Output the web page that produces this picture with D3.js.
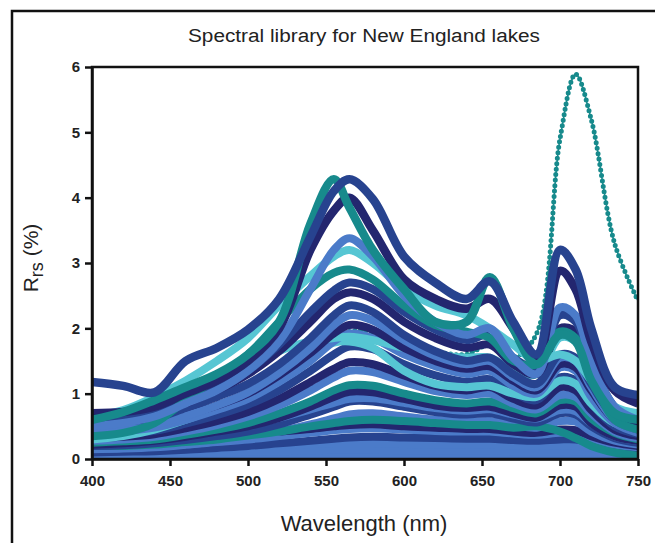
<!DOCTYPE html>
<html>
<head>
<meta charset="utf-8">
<script src="https://cdn.jsdelivr.net/npm/d3@7"></script>
<style>
  body { margin: 0; background: #fff; }
  svg { display: block; }
  text { font-family: "Liberation Sans", Arial, sans-serif; fill: #222; }
</style>
</head>
<body>
<div id="chart"></div>
<script>
var wavelength = [400,420,440,460,480,500,520,540,555,565,580,600,620,640,655,670,685,700,710,720,735,750];

// Rrs (%) per lake
var lakeA = [1.18,1.12,1.02,1.5,1.7,1.98,2.45,3.4,4.1,4.28,3.98,3.1,2.7,2.45,2.72,2.1,1.6,3.2,2.9,2.0,1.1,0.98];
var lakeB = [0.7,0.72,0.8,1.0,1.2,1.5,2.0,3.2,3.8,4.0,3.5,2.75,2.45,2.3,2.45,2.0,1.5,2.88,2.6,1.8,1.05,0.85];
var lakeT1 = [0.6,0.72,0.9,1.1,1.3,1.6,2.1,3.6,4.28,3.85,3.2,2.6,2.1,2.1,2.78,2.0,1.45,1.9,1.8,1.2,0.7,0.6];
var lakeC = [0.5,0.55,0.65,0.85,1.05,1.35,1.8,2.6,3.2,3.38,3.1,2.5,2.1,1.9,2.0,1.55,1.3,2.32,2.2,1.5,0.8,0.6];
var lakeD = [0.65,0.75,0.95,1.2,1.5,1.85,2.35,2.8,3.1,3.2,3.0,2.6,2.35,2.2,2.0,1.75,1.5,1.6,1.5,1.2,0.8,0.7];
var lakeF = [0.35,0.4,0.55,0.9,1.25,1.6,2.1,2.6,2.85,2.9,2.75,2.35,2.05,1.95,1.85,1.5,1.45,1.95,1.85,1.3,0.6,0.45];
var lakeJ = [0.62,0.64,0.7,0.88,1.08,1.35,1.75,2.25,2.58,2.7,2.6,2.25,1.98,1.82,1.9,1.55,1.4,2.2,2.1,1.5,0.8,0.6];
var lakeG = [0.6,0.62,0.68,0.85,1.05,1.3,1.65,2.1,2.45,2.55,2.45,2.1,1.85,1.7,1.75,1.45,1.3,2.0,1.95,1.4,0.75,0.55];
var lakeH = [0.55,0.58,0.62,0.78,0.95,1.15,1.45,1.85,2.2,2.35,2.25,1.9,1.65,1.5,1.55,1.3,1.15,1.6,1.55,1.15,0.65,0.5];
var lakeI = [0.45,0.48,0.53,0.66,0.82,1.02,1.32,1.7,2.05,2.2,2.12,1.82,1.58,1.45,1.5,1.25,1.1,1.55,1.5,1.1,0.6,0.45];
var lakeK = [0.5,0.52,0.56,0.68,0.82,1.0,1.28,1.62,1.92,2.05,1.98,1.7,1.5,1.38,1.42,1.2,1.05,1.45,1.4,1.05,0.6,0.45];
var lakeL = [0.4,0.43,0.48,0.6,0.75,0.92,1.18,1.5,1.8,1.92,1.85,1.6,1.42,1.3,1.35,1.12,1.0,1.4,1.35,0.95,0.55,0.4];
var lakeE = [0.44,0.55,0.7,0.9,1.1,1.35,1.65,1.8,1.85,1.87,1.82,1.7,1.6,1.55,1.55,1.35,1.3,1.86,1.8,1.35,0.8,0.65];
var lakeO = [0.3,0.35,0.45,0.6,0.78,1.0,1.3,1.6,1.78,1.8,1.7,1.35,1.15,1.1,1.12,1.0,0.95,1.2,1.15,0.85,0.55,0.5];
var lakeN = [0.35,0.38,0.43,0.54,0.67,0.83,1.05,1.35,1.6,1.72,1.68,1.45,1.28,1.18,1.22,1.02,0.9,1.25,1.2,0.85,0.5,0.38];
var lakeP = [0.32,0.34,0.38,0.47,0.58,0.72,0.92,1.18,1.38,1.48,1.45,1.28,1.12,1.05,1.1,0.92,0.82,1.1,1.05,0.75,0.45,0.35];
var lakeQ = [0.28,0.3,0.34,0.42,0.52,0.65,0.82,1.05,1.25,1.35,1.33,1.18,1.04,0.98,1.0,0.85,0.76,0.98,0.95,0.7,0.42,0.32];
var lakeR = [0.25,0.27,0.3,0.37,0.45,0.55,0.7,0.88,1.05,1.13,1.12,1.0,0.9,0.85,0.88,0.78,0.7,0.9,0.88,0.62,0.4,0.3];
var lakeS = [0.22,0.24,0.28,0.34,0.42,0.5,0.63,0.8,0.95,1.03,1.02,0.92,0.82,0.78,0.8,0.7,0.63,0.82,0.8,0.55,0.35,0.28];
var lakeM = [0.25,0.27,0.3,0.36,0.43,0.52,0.63,0.76,0.86,0.92,0.93,0.86,0.78,0.74,0.76,0.68,0.62,0.75,0.73,0.55,0.35,0.28];
var lakeU = [0.2,0.21,0.24,0.29,0.35,0.42,0.53,0.68,0.8,0.88,0.88,0.8,0.72,0.68,0.7,0.62,0.56,0.7,0.68,0.5,0.32,0.25];
var lakeW = [0.15,0.16,0.18,0.22,0.27,0.33,0.42,0.53,0.62,0.68,0.7,0.65,0.6,0.57,0.58,0.52,0.48,0.58,0.57,0.42,0.28,0.22];
var lakeX = [0.3,0.3,0.31,0.33,0.35,0.38,0.42,0.46,0.5,0.52,0.53,0.5,0.48,0.46,0.46,0.42,0.4,0.45,0.44,0.35,0.25,0.2];
var lakeV = [0.2,0.2,0.22,0.26,0.3,0.36,0.42,0.5,0.55,0.58,0.6,0.58,0.55,0.52,0.52,0.48,0.5,0.42,0.32,0.2,0.1,0.05];
var lakeY2 = [0.16,0.17,0.19,0.22,0.26,0.3,0.35,0.4,0.44,0.46,0.47,0.45,0.43,0.42,0.42,0.39,0.37,0.4,0.39,0.32,0.22,0.18];
var lakeY = [0.1,0.11,0.12,0.14,0.17,0.2,0.24,0.28,0.31,0.33,0.34,0.33,0.32,0.31,0.31,0.29,0.28,0.3,0.3,0.25,0.18,0.15];
var lakeZ2 = [0.12,0.13,0.14,0.16,0.18,0.2,0.22,0.23,0.24,0.24,0.24,0.23,0.22,0.22,0.22,0.21,0.2,0.21,0.2,0.17,0.12,0.1];
var lakeZ = [0.06,0.07,0.08,0.09,0.1,0.11,0.12,0.13,0.14,0.14,0.14,0.13,0.13,0.13,0.13,0.12,0.12,0.12,0.12,0.1,0.08,0.07];
var lakeZ0 = [0.03,0.03,0.03,0.03,0.03,0.03,0.03,0.04,0.05,0.05,0.05,0.05,0.05,0.05,0.05,0.05,0.05,0.05,0.05,0.04,0.03,0.03];
// the bloom lake with the big 710 nm peak (drawn dotted, underneath the rest)
var lakeT2 = [0.45,0.5,0.55,0.65,0.8,1.0,1.3,1.6,1.85,1.95,1.95,1.8,1.65,1.6,1.75,1.55,1.92,4.9,5.89,5.2,3.3,2.42];

var xTicks = [400,450,500,550,600,650,700,750];
var yTicks = [0,1,2,3,4,5,6];

var navy = "#23266f", dkblue = "#27438f", blue = "#4b7bc9", cyan = "#56c6d3", teal = "#178a8c";

// drawn bottom to top
var spectra = [
  [lakeZ0, blue], [lakeZ, blue], [lakeZ2, blue], [lakeY, dkblue], [lakeY2, blue],
  [lakeX, navy], [lakeW, blue], [lakeV, teal], [lakeU, dkblue], [lakeM, blue],
  [lakeS, navy], [lakeR, teal], [lakeQ, blue], [lakeP, navy],
  [lakeN, dkblue], [lakeO, cyan], [lakeL, blue], [lakeE, cyan], [lakeK, navy],
  [lakeI, blue], [lakeH, dkblue], [lakeG, navy], [lakeJ, dkblue], [lakeF, teal],
  [lakeD, cyan], [lakeC, blue], [lakeB, navy], [lakeT1, teal], [lakeA, dkblue]
];

var svg = d3.select("#chart").append("svg")
    .attr("width", 655)
    .attr("height", 543);

// outer frame of the figure
svg.append("rect")
    .attr("x", 12).attr("y", 11)
    .attr("width", 700).attr("height", 600)
    .attr("fill", "none")
    .attr("stroke", "#111")
    .attr("stroke-width", 2.5);

var x = d3.scaleLinear().domain([400, 750]).range([92, 638]);
var y = d3.scaleLinear().domain([0, 6]).range([459, 67]);

svg.append("clipPath").attr("id", "plot")
  .append("rect")
    .attr("x", 92).attr("y", 67)
    .attr("width", 546).attr("height", 392);

var line = d3.line()
    .x(function(d, i) { return x(wavelength[i]); })
    .y(function(d) { return y(d); })
    .curve(d3.curveCatmullRom.alpha(0.5));

var g = svg.append("g").attr("clip-path", "url(#plot)");

// dotted bloom spectrum first, so the bundle hides its low part
g.append("path")
    .attr("d", line(lakeT2))
    .attr("fill", "none")
    .attr("stroke", teal)
    .attr("stroke-width", 1.5);
g.append("path")
    .attr("d", line(lakeT2))
    .attr("fill", "none")
    .attr("stroke", teal)
    .attr("stroke-width", 5)
    .attr("stroke-linecap", "round")
    .attr("stroke-dasharray", "0,5.5");

spectra.forEach(function(s, i) {
  g.append("path")
    .attr("d", line(s[0]))
    .attr("fill", "none")
    .attr("stroke", s[1])
    .attr("stroke-width", i > spectra.length - 4 ? 8.5 : 8)
    .attr("stroke-linejoin", "round");
});

// plot frame
svg.append("rect")
    .attr("x", 92).attr("y", 67)
    .attr("width", 546).attr("height", 392)
    .attr("fill", "none")
    .attr("stroke", "#111")
    .attr("stroke-width", 2.5);

var xAxis = svg.append("g")
    .attr("transform", "translate(0,459)")
    .call(d3.axisBottom(x).tickValues(xTicks).tickSize(7).tickSizeOuter(0));
var yAxis = svg.append("g")
    .attr("transform", "translate(92,0)")
    .call(d3.axisLeft(y).tickValues(yTicks).tickFormat(d3.format("d")).tickSize(7).tickSizeOuter(0));

[xAxis, yAxis].forEach(function(a) {
  a.select(".domain").attr("stroke", "#111").attr("stroke-width", 2.5);
  a.selectAll(".tick line").attr("stroke", "#111").attr("stroke-width", 2.5);
  a.selectAll(".tick text")
    .attr("fill", "#222")
    .style("font-family", "'Liberation Sans', Arial, sans-serif")
    .style("font-size", "15px")
    .style("font-weight", "bold");
});
xAxis.selectAll(".tick text").attr("dy", "1.1em");
yAxis.selectAll(".tick text").attr("x", -12);

svg.append("text")
    .attr("x", 364)
    .attr("y", 42)
    .attr("text-anchor", "middle")
    .attr("textLength", 352)
    .attr("lengthAdjust", "spacingAndGlyphs")
    .style("font-size", "18px")
    .text("Spectral library for New England lakes");

svg.append("text")
    .attr("x", 364)
    .attr("y", 531)
    .attr("text-anchor", "middle")
    .style("font-size", "22px")
    .text("Wavelength (nm)");

var ylab = svg.append("text")
    .attr("transform", "translate(38,258) rotate(-90)")
    .attr("text-anchor", "middle")
    .style("font-size", "21px");
ylab.append("tspan").text("R");
ylab.append("tspan").attr("dy", 5).style("font-size", "18px").text("rs");
ylab.append("tspan").attr("dy", -5).text(" (%)");
</script>
</body>
</html>
